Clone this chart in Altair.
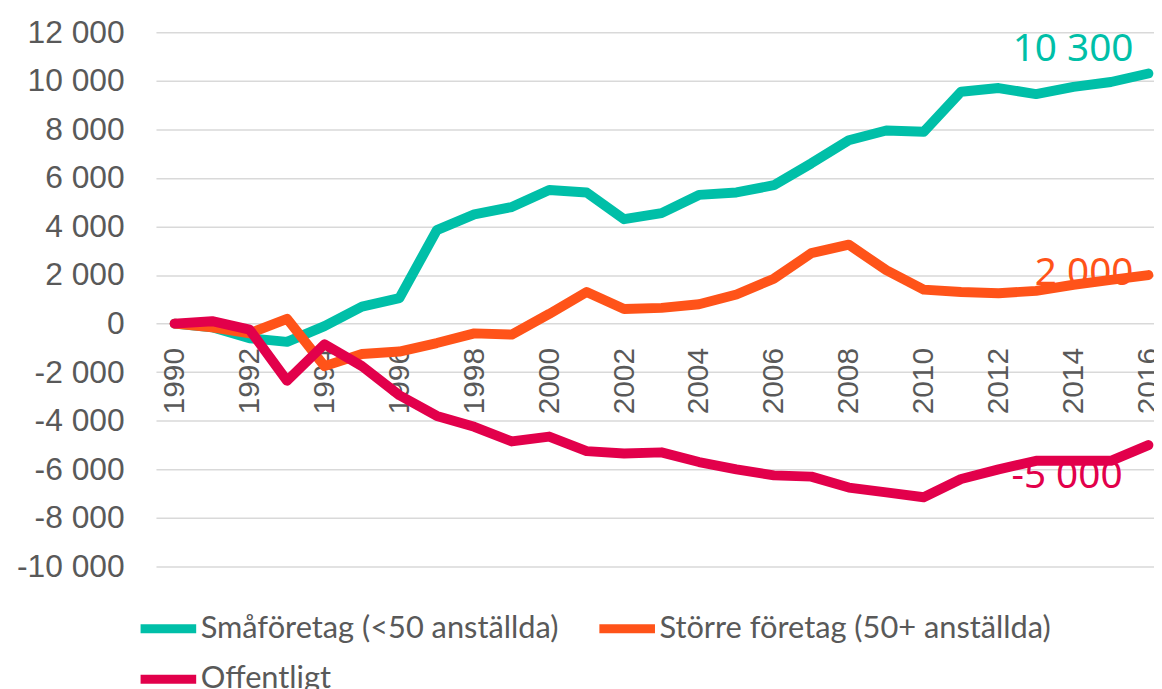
import altair as alt
import pandas as pd

years = list(range(1990, 2017))
series_names = ["Småföretag (<50 anställda)", "Större företag (50+ anställda)", "Offentligt"]
small = [0, -150, -600, -750, -100, 700, 1050, 3850, 4500, 4800, 5500, 5400, 4300, 4550,
         5300, 5400, 5700, 6600, 7550, 7950, 7900, 9550, 9700, 9450, 9750, 9950, 10300]
large = [0, -150, -400, 200, -1750, -1250, -1150, -800, -400, -450, 400, 1300, 600, 650,
         800, 1200, 1850, 2900, 3250, 2200, 1400, 1300, 1250, 1350, 1600, 1800, 2000]
public = [0, 100, -250, -2350, -850, -1750, -2950, -3800, -4250, -4850, -4650, -5250, -5350, -5300,
          -5700, -6000, -6250, -6300, -6750, -6950, -7150, -6400, -6000, -5650, -5650, -5650, -5000]
colors = ["#00BFA8", "#FF5319", "#E2004B"]
end_texts = ["10 300", "2 000", "-5 000"]
y_ticks = list(range(-10000, 12001, 2000))
x_ticks = list(range(1990, 2017, 2))

rows = []
for name, vals in zip(series_names, [small, large, public]):
    for yr, v in zip(years, vals):
        rows.append({"year": yr, "value": v, "series": name})
df = pd.DataFrame(rows)

x_scale = alt.Scale(domain=[1989.5, 2016.15], nice=False, zero=False)
y_scale = alt.Scale(domain=[-10000, 12000], nice=False, zero=False)

label_expr = "replace(replace(format(datum.value, ','), ',', ' '), '\u2212', '-')"

lines = alt.Chart(df).mark_line(strokeWidth=10, strokeCap="round", strokeJoin="round").encode(
    x=alt.X("year:Q", scale=x_scale,
            axis=alt.Axis(values=x_ticks, format="d", title=None, labelAngle=270,
                          labelFontSize=30, labelFont="Liberation Sans", labelColor="#595959",
                          labelPadding=24, offset=-244.5, grid=False, domain=False, ticks=False,
                          labelFlush=False, labelOverlap=False, labelBound=False)),
    y=alt.Y("value:Q", scale=y_scale,
            axis=alt.Axis(values=y_ticks, labelExpr=label_expr, title=None,
                          labelFontSize=32, labelFont="Liberation Sans", labelColor="#595959",
                          labelPadding=32, grid=True, gridColor="#D9D9D9", gridWidth=1.5,
                          domain=False, ticks=False)),
    color=alt.Color("series:N", sort=series_names,
                    scale=alt.Scale(domain=series_names, range=colors),
                    legend=alt.Legend(title=None, orient="none", legendX=-20, legendY=568,
                                      direction="horizontal",
                                      columns=2, symbolType="stroke", symbolStrokeWidth=9,
                                      symbolSize=3136, labelFontSize=31, labelFont="Lato",
                                      labelColor="#595959", labelOffset=0, rowPadding=-12,
                                      columnPadding=22, labelLimit=700)),
)

layers = []
offsets = [(-15, -25), (-15, -2), (-26, 31)]
for name, vals, col, txt, (ddx, ddy) in zip(series_names, [small, large, public], colors, end_texts, offsets):
    tdf = pd.DataFrame({"year": [years[-1]], "value": [vals[-1]], "label": [txt]})
    t = alt.Chart(tdf).mark_text(align="right", baseline="middle", font="Noto Sans",
                                 fontSize=39, color=col, dx=ddx, dy=ddy).encode(
        x=alt.X("year:Q", scale=x_scale), y=alt.Y("value:Q", scale=y_scale), text="label:N")
    layers.append(t)

chart = alt.layer(*layers, lines).properties(
    width=1005, height=538,
    autosize=alt.AutoSizeParams(type="none"),
    padding={"left": 149, "top": 22, "right": 0, "bottom": 121},
).configure_view(stroke=None)

chart.save("out.html", embed_options={"renderer": "svg", "actions": False})
